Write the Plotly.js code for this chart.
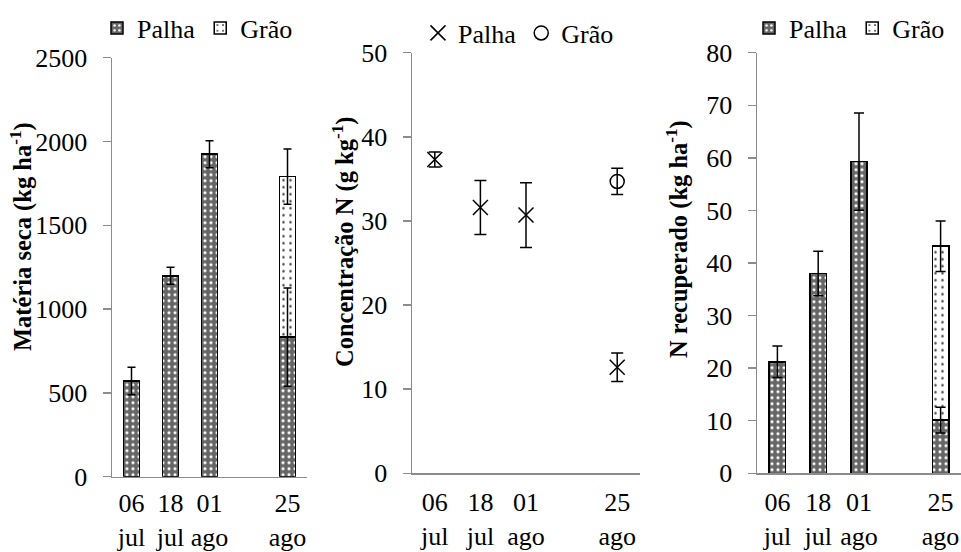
<!DOCTYPE html>
<html>
<head>
<meta charset="utf-8">
<script src="https://cdn.plot.ly/plotly-3.0.1.min.js"></script>
<style>html,body{margin:0;padding:0;background:#fff;}#chart{width:961px;height:552px;}</style>
</head>
<body>
<div id="chart"></div>
<script>
// Category slots (an empty slot separates 01 ago from 25 ago, as in the original)
const slots = ['06 jul', '18 jul', '01 ago', 'gap', '25 ago'];
const dates = ['06 jul', '18 jul', '01 ago', '25 ago'];
const tickLabels = ['06<br>jul', '18<br>jul', '01<br>ago', '25<br>ago'];

// Axis titles
const titles = ['<b>Matéria seca (kg ha<sup>-1</sup>)</b>', '<b>Concentração N (g kg<sup>-1</sup>)</b>', '<b>N recuperado (kg ha<sup>-1</sup>)</b>'];

// Matéria seca (kg ha-1)
const msPalha = [571, 1199, 1924, 833];
const msPalhaErr = [82, 50, 80, 293];
const msGrao = [null, null, null, 957];
const msGraoErr = [0, 0, 0, 165];

// Concentração N (g kg-1)
const concPalha = [37.3, 31.6, 30.7, 12.6];
const concPalhaErr = [0.9, 3.2, 3.85, 1.7];
const concGrao = [null, null, null, 34.7];
const concGraoErr = [0, 0, 0, 1.55];

// N recuperado (kg ha-1)
const nrPalha = [21.2, 38.0, 59.3, 10.1];
const nrPalhaErr = [3.0, 4.25, 9.25, 2.45];
const nrGrao = [null, null, null, 33.1];
const nrGraoErr = [0, 0, 0, 4.8];

const FONT = '"Liberation Serif", "Times New Roman", serif';
const AXC = '#8c8c8c';
const palhaPattern = {shape: '.', bgcolor: '#666666', fgcolor: '#ffffff', size: 6, solidity: 0.22};
const graoPattern = {shape: '.', bgcolor: '#ffffff', fgcolor: '#444444', size: 7, solidity: 0.1};

function stackTop(a, b) { return a.map((v, i) => b[i] == null ? null : v + b[i]); }

function barPanel(xa, ya, leg, palha, palhaErr, grao, graoErr, capW) {
  return [
    {type: 'bar', name: 'Palha', x: dates, y: palha, xaxis: xa, yaxis: ya, legend: leg,
     marker: {color: '#666666', pattern: palhaPattern, line: {color: '#000', width: 1.5}}, hoverinfo: 'skip'},
    {type: 'bar', name: 'Grão', x: dates, y: grao, xaxis: xa, yaxis: ya, legend: leg,
     marker: {color: '#ffffff', pattern: graoPattern, line: {color: '#000', width: 1.5}}, hoverinfo: 'skip'},
    {type: 'scatter', mode: 'markers', x: dates, y: palha, xaxis: xa, yaxis: ya, showlegend: false,
     marker: {size: 1, color: 'rgba(0,0,0,0)'}, hoverinfo: 'skip',
     error_y: {type: 'data', array: palhaErr, color: '#000', thickness: 1.5, width: capW}},
    {type: 'scatter', mode: 'markers', x: dates, y: stackTop(palha, grao), xaxis: xa, yaxis: ya, showlegend: false,
     marker: {size: 1, color: 'rgba(0,0,0,0)'}, hoverinfo: 'skip',
     error_y: {type: 'data', array: graoErr, color: '#000', thickness: 1.5, width: capW}}
  ];
}

const traces = [].concat(
  barPanel('x', 'y', 'legend', msPalha, msPalhaErr, msGrao, msGraoErr, 4),
  [
    {type: 'scatter', mode: 'markers', name: 'Palha', x: dates, y: concPalha, xaxis: 'x2', yaxis: 'y2', legend: 'legend2',
     marker: {symbol: 'x-thin-open', size: 15, color: '#000', line: {color: '#000', width: 1.5}}, hoverinfo: 'skip',
     error_y: {type: 'data', array: concPalhaErr, color: '#000', thickness: 1.5, width: 6}},
    {type: 'scatter', mode: 'markers', name: 'Grão', x: dates, y: concGrao, xaxis: 'x2', yaxis: 'y2', legend: 'legend2',
     marker: {symbol: 'circle-open', size: 14, color: '#000', line: {color: '#000', width: 1.5}}, hoverinfo: 'skip',
     error_y: {type: 'data', array: concGraoErr, color: '#000', thickness: 1.5, width: 6}}
  ],
  barPanel('x3', 'y3', 'legend3', nrPalha, nrPalhaErr, nrGrao, nrGraoErr, 5)
);

const W = 961, H = 552;
function xAxis(l, r, standoff) {
  return {
    domain: [l / W, r / W], type: 'category', categoryarray: slots, categoryorder: 'array',
    range: [-0.5, 4.5], showline: true, linecolor: AXC, linewidth: 1.5, ticks: '',
    tickmode: 'array', tickvals: dates, ticktext: tickLabels, ticklabelstandoff: standoff,
    showgrid: false, zeroline: false, fixedrange: true,
    tickfont: {family: FONT, size: 26, color: '#000'}
  };
}
function yAxis(anchor, bottom, top, range, dtick) {
  return {
    anchor: anchor, domain: [1 - bottom / H, 1 - top / H], range: range, dtick: dtick,
    showline: true, linecolor: AXC, linewidth: 1.5, ticks: 'outside', ticklen: 8, tickcolor: AXC, tickwidth: 1.5,
    ticklabelstandoff: 10, showgrid: false, zeroline: false, fixedrange: true,
    tickfont: {family: FONT, size: 26, color: '#000'}
  };
}
function yTitle(text, xpx, ypx) {
  return {text: text, xref: 'paper', yref: 'paper', x: xpx / W, y: 1 - ypx / H, textangle: -90,
    xanchor: 'center', yanchor: 'middle', showarrow: false,
    font: {family: FONT, size: 24.5, color: '#000'}};
}

const legendBase = {orientation: 'h', xanchor: 'left', yanchor: 'middle', bgcolor: 'rgba(0,0,0,0)',
  font: {family: FONT, size: 26, color: '#000'}, traceorder: 'normal'};

const layout = {
  width: W, height: H, margin: {l: 0, r: 0, t: 0, b: 0},
  paper_bgcolor: '#fff', plot_bgcolor: '#fff',
  font: {family: FONT, color: '#000'},
  barmode: 'stack', bargap: 0.6,
  xaxis: Object.assign(xAxis(112, 307, 3), {anchor: 'y'}),
  yaxis: yAxis('x', 476.7, 57.7, [0, 2500], 500),
  xaxis2: Object.assign(xAxis(412, 640, 5), {anchor: 'y2'}),
  yaxis2: yAxis('x2', 473.3, 52.7, [0, 50], 10),
  xaxis3: Object.assign(xAxis(757, 961, 5), {anchor: 'y3'}),
  yaxis3: yAxis('x3', 473.3, 52.7, [0, 80], 10),
  annotations: [
    yTitle(titles[0], 21, 237),
    yTitle(titles[1], 344, 242),
    yTitle(titles[2], 677, 239)
  ],
  legend: Object.assign({}, legendBase, {x: 97 / W, y: 1 - 28 / H}),
  legend2: Object.assign({}, legendBase, {x: 418 / W, y: 1 - 33 / H}),
  legend3: Object.assign({}, legendBase, {x: 749 / W, y: 1 - 28 / H}),
  showlegend: true
};

Plotly.newPlot('chart', traces, layout, {displayModeBar: false, staticPlot: true});
</script>
</body>
</html>
